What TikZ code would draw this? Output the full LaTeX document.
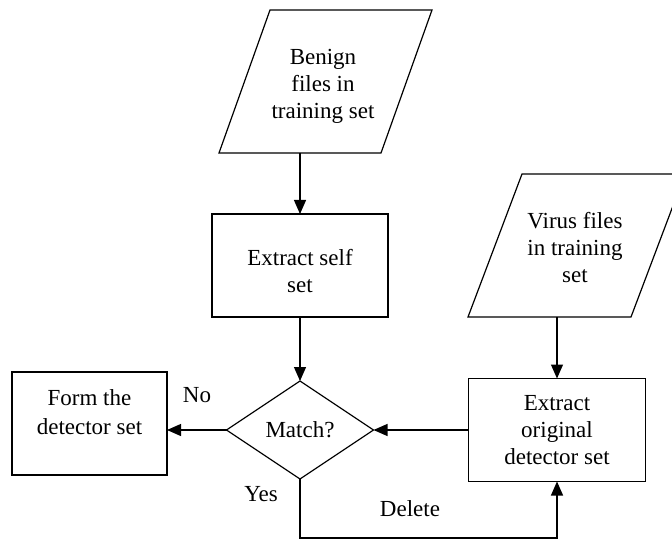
\documentclass[tikz,border=0pt]{standalone}
\usepackage{fontspec}
\setmainfont{Liberation Serif}
\usetikzlibrary{arrows.meta,shapes.geometric}
\begin{document}
\begin{tikzpicture}[x=1pt,y=-1pt,
  line width=1.2pt,
  arr/.style={-{Triangle[length=14pt,width=12pt]}},
  box/.style={draw, rectangle, inner sep=0pt, outer sep=0pt},
  txt/.style={align=center, font=\fontsize{23}{27}\selectfont, inner sep=0pt},
  lbl/.style={font=\fontsize{23}{27}\selectfont, inner sep=0pt}]
\useasboundingbox (0,0) rectangle (672,540);
\clip (0,0) rectangle (672,540);
% Benign files parallelogram
\draw (270,10) -- (432,10) -- (381,153) -- (219,153) -- cycle;
\node[txt] (benign) at (323,86) {Benign\\files in\\training set};
\coordinate (benignB) at (300,153);
% Extract self set
\node[box, minimum width=176pt, minimum height=103pt] (self) at (300,265.5) {};
\node[txt] (selftxt) at (300,271) {Extract self\\set};
% Match diamond
\node[draw, diamond, minimum width=147pt, minimum height=98pt, inner sep=0pt, outer sep=0pt,
  font=\fontsize{23}{27}\selectfont] (match) at (300,430) {Match?};
% Form the detector set
\node[box, minimum width=155pt, minimum height=103pt] (form) at (89.5,423.5) {};
\node[txt] (formtxt) at (89.5,412) {Form the\\[2pt]detector set};
% Virus files parallelogram
\draw (522,174) -- (685,174) -- (631,317) -- (468,317) -- cycle;
\node[txt] (virus) at (575,247.5) {Virus files\\in training\\set};
\coordinate (virusB) at (557,317);
% Extract original detector set
\node[box, minimum width=177pt, minimum height=103pt] (orig) at (557,430) {};
\node[txt] (origtxt) at (557,430) {Extract\\original\\detector set};
% connectors
\draw[arr] (benignB) -- (self.north);
\draw[arr] (self.south) -- (match.north);
\draw[arr] (match.west) -- (match.west -| form.east);
\draw[arr] (orig.west) -- (match.east);
\draw[arr] (virusB) -- (orig.north);
\coordinate (turn) at (557,538);
\draw[arr] (match.south) |- (turn) -- (orig.south);
% labels
\node[lbl] (no) at (197,395) {No};
\node[lbl] (yes) at (261,494) {Yes};
\node[lbl] (del) at (410,509) {Delete};
\end{tikzpicture}
\end{document}
